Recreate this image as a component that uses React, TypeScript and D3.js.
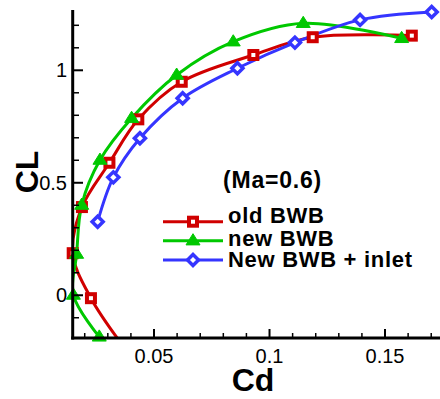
import React from "react";
import * as d3 from "d3";

const seriesNames = ["old BWB", "new BWB", "New BWB + inlet"];
const oldCd = [0.0384, 0.0227, 0.0148, 0.0188, 0.0307, 0.0432, 0.062, 0.093, 0.1187, 0.1616];
const oldCl = [-0.25, -0.013, 0.187, 0.392, 0.589, 0.782, 0.949, 1.068, 1.147, 1.154];
const newCd = [0.0263, 0.0151, 0.0165, 0.0187, 0.0266, 0.0403, 0.0598, 0.0843, 0.1146, 0.1572];
const newCl = [-0.185, 0.001, 0.183, 0.401, 0.601, 0.787, 0.979, 1.127, 1.209, 1.142];
const inletCd = [0.0256, 0.0324, 0.0439, 0.0624, 0.0861, 0.111, 0.1392, 0.1702];
const inletCl = [0.327, 0.524, 0.698, 0.876, 1.009, 1.123, 1.224, 1.259];

const xMajor = [0.05, 0.1, 0.15];
const xMajorLabels = ["0.05", "0.1", "0.15"];
const xMinor = [0.02, 0.03, 0.04, 0.06, 0.07, 0.08, 0.09, 0.11, 0.12, 0.13, 0.14, 0.16, 0.17];
const yMajor = [0, 0.5, 1];
const yMajorLabels = ["0", "0.5", "1"];
const yMinor = [-0.1, 0.1, 0.2, 0.3, 0.4, 0.6, 0.7, 0.8, 0.9, 1.1, 1.2];

const colors = ["#d00000", "#00c800", "#3535ff"];
const FONT = "'Liberation Sans', Arial, Helvetica, sans-serif";

function Marker({ kind, cx, cy, color }: { kind: number; cx: number; cy: number; color: string }) {
  if (kind === 0) {
    return <rect x={cx - 4} y={cy - 4} width={8} height={8} fill="white" stroke={color} strokeWidth={4} />;
  }
  if (kind === 1) {
    const s = 7;
    const p = `M${cx},${cy - s} L${cx + s},${cy + s * 0.6} L${cx - s},${cy + s * 0.6} Z`;
    return <path d={p} fill={color} stroke={color} strokeWidth={1} />;
  }
  const r = 5.5;
  const p = `M${cx},${cy - r} L${cx + r},${cy} L${cx},${cy + r} L${cx - r},${cy} Z`;
  return <path d={p} fill="white" stroke={color} strokeWidth={3.5} />;
}

export default function App() {
  const x = d3.scaleLinear().domain([0.0148, 0.1738]).range([72.7, 440]);
  const y = d3.scaleLinear().domain([-0.19, 1.268]).range([338, 10]);
  const line = d3
    .line<[number, number]>()
    .x((d) => x(d[0]))
    .y((d) => y(d[1]))
    .curve(d3.curveCatmullRom.alpha(0.5));

  const series = [
    oldCd.map((c, i) => [c, oldCl[i]] as [number, number]),
    newCd.map((c, i) => [c, newCl[i]] as [number, number]),
    inletCd.map((c, i) => [c, inletCl[i]] as [number, number]),
  ];
  const inside = (d: [number, number]) => d[1] >= -0.2 && d[1] <= 1.3 && d[0] <= 0.175;

  const legendLineY = [221.7, 240.7, 260];
  const legendTextY = [223.3, 246, 266.7];

  return (
    <svg width={440} height={399} style={{ position: "absolute", left: 0, top: 0, background: "white" }} fontFamily={FONT}>
      <defs>
        <clipPath id="plotclip">
          <rect x={72.7} y={0} width={368} height={338} />
        </clipPath>
      </defs>
      <g clipPath="url(#plotclip)">
        {series.map((s, i) => (
          <path key={i} d={line(s) || ""} fill="none" stroke={colors[i]} strokeWidth={3} />
        ))}
      </g>
      {series.map((s, i) => (
        <g key={i}>
          {s.filter(inside).map((d, j) => (
            <Marker key={j} kind={i} cx={x(d[0])} cy={y(d[1])} color={colors[i]} />
          ))}
        </g>
      ))}
      {/* axes */}
      <line x1={72.7} y1={10} x2={72.7} y2={339.5} stroke="black" strokeWidth={3} />
      <line x1={71.2} y1={338} x2={440} y2={338} stroke="black" strokeWidth={3} />
      {xMajor.map((v, i) => (
        <g key={i}>
          <line x1={x(v)} x2={x(v)} y1={338} y2={329} stroke="black" strokeWidth={2} />
          <text x={x(v)} y={362.5} textAnchor="middle" fontSize={20}>{xMajorLabels[i]}</text>
        </g>
      ))}
      {xMinor.map((v, i) => (
        <line key={i} x1={x(v)} x2={x(v)} y1={338} y2={333} stroke="black" strokeWidth={1.5} />
      ))}
      {yMajor.map((v, i) => (
        <g key={i}>
          <line x1={72.7} x2={83} y1={y(v)} y2={y(v)} stroke="black" strokeWidth={2} />
          <text x={67} y={y(v) + 7} textAnchor="end" fontSize={20}>{yMajorLabels[i]}</text>
        </g>
      ))}
      {yMinor.map((v, i) => (
        <line key={i} x1={72.7} x2={79} y1={y(v)} y2={y(v)} stroke="black" strokeWidth={1.5} />
      ))}
      <text x={253} y={391} textAnchor="middle" fontSize={32} fontWeight="bold">Cd</text>
      <text transform="translate(38,172) rotate(-90)" textAnchor="middle" fontSize={32} fontWeight="bold">CL</text>
      <text x={223} y={187.5} fontSize={23} fontWeight="bold" letterSpacing={0.8}>(Ma=0.6)</text>
      {seriesNames.map((n, i) => (
        <g key={i}>
          <line x1={163} x2={223} y1={legendLineY[i]} y2={legendLineY[i]} stroke={colors[i]} strokeWidth={3} />
          <Marker kind={i} cx={193} cy={legendLineY[i]} color={colors[i]} />
          <text x={228} y={legendTextY[i]} fontSize={22} fontWeight="bold" letterSpacing={0.7}>{n}</text>
        </g>
      ))}
    </svg>
  );
}
